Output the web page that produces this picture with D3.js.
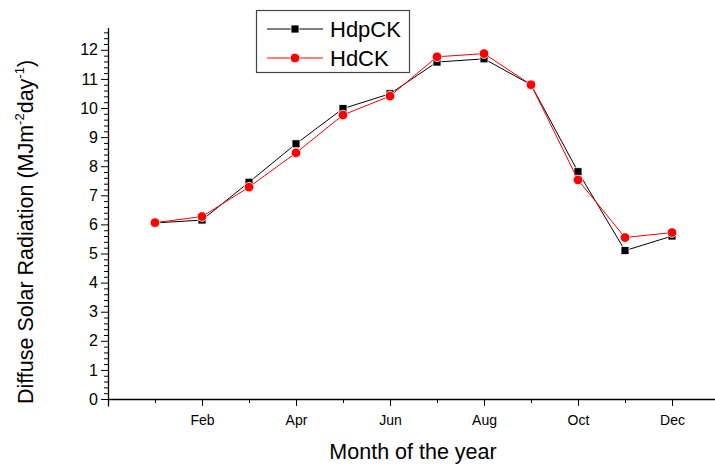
<!DOCTYPE html>
<html>
<head>
<meta charset="utf-8">
<script src="https://cdn.jsdelivr.net/npm/d3@7"></script>
<style>
  html, body { margin: 0; padding: 0; background: #fff; }
  svg { display: block; font-family: "Liberation Sans", Arial, sans-serif; }
</style>
</head>
<body>
<svg id="chart" width="715" height="467"></svg>
<script>
// ---- data ----
const monthIndex = [1, 2, 3, 4, 5, 6, 7, 8, 9, 10, 11, 12];
const monthNames = ["Jan", "Feb", "Mar", "Apr", "May", "Jun", "Jul", "Aug", "Sep", "Oct", "Nov", "Dec"];
const hdpCK = [6.05, 6.15, 7.45, 8.77, 9.98, 10.49, 11.58, 11.69, 10.80, 7.81, 5.10, 5.60];
const hdCK  = [6.06, 6.27, 7.28, 8.46, 9.76, 10.41, 11.76, 11.87, 10.80, 7.53, 5.55, 5.72];
const yTickValues = [0, 1, 2, 3, 4, 5, 6, 7, 8, 9, 10, 11, 12];
const xMajorTicks = [0, 2, 4, 6, 8, 10, 12];
const xMinorTicks = [1, 3, 5, 7, 9, 11];
const xTickLabels = ["", "Feb", "Apr", "Jun", "Aug", "Oct", "Dec"];
const seriesNames = ["HdpCK", "HdCK"];

// ---- layout ----
const svg = d3.select("#chart");
const x = d3.scaleLinear().domain([0, 13]).range([108, 719]);
const y = d3.scaleLinear().domain([0, 12.75]).range([399, 28]);

// ---- Y axis ----
const yMinor = d3.range(0, 12.75, 0.2).filter(v => Math.abs(v - Math.round(v)) > 1e-6);
svg.append("g").attr("transform", "translate(108,0)")
  .call(d3.axisLeft(y).tickValues(yMinor).tickSize(4).tickFormat(""))
  .call(g => g.select(".domain").remove())
  .call(g => g.selectAll("line").attr("stroke", "#000").attr("stroke-width", 1));
const yAx = svg.append("g").attr("transform", "translate(108,0)")
  .call(d3.axisLeft(y).tickValues(yTickValues).tickSize(7).tickSizeOuter(0).tickPadding(3).tickFormat(d3.format("d")));
yAx.select(".domain").attr("stroke", "#000").attr("stroke-width", 1.3)
  .attr("d", `M0.5,${y(12.75)}V${y(0) + 7.5}`);
yAx.selectAll("line").attr("stroke", "#000").attr("stroke-width", 1);
yAx.selectAll("text").attr("font-size", 16).attr("fill", "#000")
  .attr("font-family", "'Liberation Sans', Arial, sans-serif");

// ---- X axis ----
const xMinAx = svg.append("g").attr("transform", "translate(0,399)")
  .call(d3.axisBottom(x).tickValues(xMinorTicks).tickSize(4).tickFormat(""));
xMinAx.select(".domain").remove();
xMinAx.selectAll("line").attr("stroke", "#000");
const xAx = svg.append("g").attr("transform", "translate(0,399)")
  .call(d3.axisBottom(x).tickValues(xMajorTicks).tickSize(7).tickSizeOuter(0).tickPadding(9)
    .tickFormat((d, i) => xTickLabels[i]));
xAx.select(".domain").attr("stroke", "#000").attr("stroke-width", 1.3)
  .attr("d", `M${x(0)},0.5H715`);
xAx.selectAll("line").attr("stroke", "#000");
xAx.selectAll("text").attr("font-size", 14).attr("fill", "#000")
  .attr("font-family", "'Liberation Sans', Arial, sans-serif");

// ---- axis titles ----
svg.append("text").attr("x", 413).attr("y", 459).attr("text-anchor", "middle")
  .attr("font-size", 21.5).attr("fill", "#000").text("Month of the year");

const yt = svg.append("text").attr("transform", "translate(33,232) rotate(-90)")
  .attr("text-anchor", "middle").attr("font-size", 21.5).attr("fill", "#000");
yt.append("tspan").text("Diffuse Solar Radiation (MJm");
yt.append("tspan").attr("dy", -9).attr("font-size", 13).text("-2");
yt.append("tspan").attr("dy", 9).text("day");
yt.append("tspan").attr("dy", -9).attr("font-size", 13).text("-1");
yt.append("tspan").attr("dy", 9).text(")");

// ---- series ----
const line = d3.line().x(d => x(d[0])).y(d => y(d[1]));
const blackData = monthIndex.map((m, i) => [m, hdpCK[i]]);
const redData = monthIndex.map((m, i) => [m, hdCK[i]]);

svg.append("path").datum(blackData).attr("d", line)
  .attr("fill", "none").attr("stroke", "#000").attr("stroke-width", 1);
svg.selectAll("rect.sq").data(blackData).enter().append("rect").attr("class", "sq")
  .attr("x", d => x(d[0]) - 4).attr("y", d => y(d[1]) - 4)
  .attr("width", 8).attr("height", 8).attr("fill", "#000")
  .attr("stroke", "#fff").attr("stroke-width", 0.8);

svg.append("path").datum(redData).attr("d", line)
  .attr("fill", "none").attr("stroke", "#ff0000").attr("stroke-width", 1);
svg.selectAll("circle.ci").data(redData).enter().append("circle").attr("class", "ci")
  .attr("cx", d => x(d[0])).attr("cy", d => y(d[1])).attr("r", 4.8)
  .attr("fill", "#ff0000").attr("stroke", "#fff").attr("stroke-width", 0.8);

// ---- legend ----
const lg = svg.append("g");
lg.append("rect").attr("x", 256.5).attr("y", 10.5).attr("width", 153).attr("height", 62)
  .attr("fill", "#fff").attr("stroke", "#444").attr("stroke-width", 1.2);
const rows = [29, 58];
// HdpCK
lg.append("line").attr("x1", 267).attr("x2", 323).attr("y1", rows[0]).attr("y2", rows[0]).attr("stroke", "#000");
lg.append("rect").attr("x", 291).attr("y", rows[0] - 4).attr("width", 8).attr("height", 8).attr("fill", "#000")
  .attr("stroke", "#fff").attr("stroke-width", 0.8);
lg.append("text").attr("x", 330).attr("y", rows[0] + 8).attr("font-size", 22).attr("fill", "#000").text(seriesNames[0]);
// HdCK
lg.append("line").attr("x1", 267).attr("x2", 323).attr("y1", rows[1]).attr("y2", rows[1]).attr("stroke", "#ff0000");
lg.append("circle").attr("cx", 295).attr("cy", rows[1]).attr("r", 4.8).attr("fill", "#ff0000")
  .attr("stroke", "#fff").attr("stroke-width", 0.8);
lg.append("text").attr("x", 330).attr("y", rows[1] + 8).attr("font-size", 22).attr("fill", "#000").text(seriesNames[1]);
</script>
</body>
</html>
